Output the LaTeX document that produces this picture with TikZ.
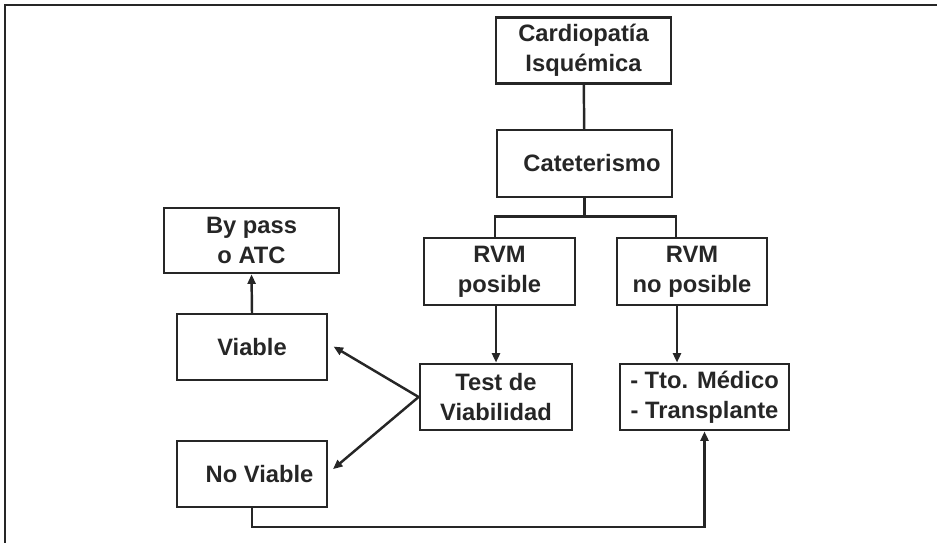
\documentclass[tikz,border=0pt]{standalone}
\usepackage{fontspec}
\setmainfont{Liberation Sans}
\usepackage{tikz}
\usetikzlibrary{arrows.meta}
\usepackage{xcolor}

\begin{document}
\begin{tikzpicture}[>={Triangle[length=1.9mm,width=1.6mm]},line cap=round,
  box/.style={draw=black!85,line width=1.6pt,minimum height=1.32cm,align=center,
    font=\fontsize{13.5}{17}\selectfont\bfseries,text=black!85,inner sep=0pt},
  conn/.style={draw=black!85,line width=1.4pt}]
\useasboundingbox (0,0) rectangle (18.74,10.86);
% frame edges
\draw[black!85,line width=1.2pt] (0.1,0) -- (0.1,10.76) -- (18.74,10.76);
% boxes
\node[box,minimum width=3.5cm] (card) at (11.67,9.85) {Cardiopatía\\Isquémica};
\node[box,minimum width=3.5cm,minimum height=1.34cm] (cat) at (11.69,7.59) {\hspace{0.3cm}Cateterismo};
\node[box,minimum width=3.02cm,minimum height=1.34cm] (rvmp) at (9.99,5.43) {RVM\\posible};
\node[box,minimum width=3.0cm,minimum height=1.34cm] (rvmn) at (13.84,5.43) {RVM\\no posible};
\node[box,minimum width=3.5cm,minimum height=1.3cm] (bypass) at (5.03,6.05) {By pass\\o ATC};
\node[box,minimum width=3.0cm] (viable) at (5.04,3.92) {Viable};
\node[box,minimum width=3.04cm] (test) at (9.92,2.92) {Test de\\Viabilidad};
\node[box,minimum width=3.38cm] (tto) at (14.09,2.92) {- Tto. Médico\\- Transplante};
\node[box,minimum width=3.0cm] (noviable) at (5.04,1.38) {\hspace{0.3cm}No Viable};
% connectors
\draw[conn] (card) -- (cat);
\draw[conn] (cat.south) -- ++(0,-0.36) coordinate (fork);
\draw[conn] (fork) -| ([xshift=-0.09cm]rvmp.north);
\draw[conn] (fork) -| ([xshift=-0.32cm]rvmn.north);
\draw[conn,->] (rvmp.south -| test.north) -- (test.north);
\coordinate (nb) at ([xshift=-0.3cm]rvmn.south);
\draw[conn,->] (nb) -- (nb |- tto.north);
\draw[conn,->] (viable.north) -- (bypass.south);
\draw[conn,->,shorten >=0.12cm] (test.west) -- ([yshift=0.07cm]viable.east);
\draw[conn,->,shorten >=0.12cm] (test.west) -- ([yshift=0.02cm]noviable.east);
\draw[conn,->] (noviable.south) -- ++(0,-0.37) -| (tto.south);
\end{tikzpicture}
\end{document}
